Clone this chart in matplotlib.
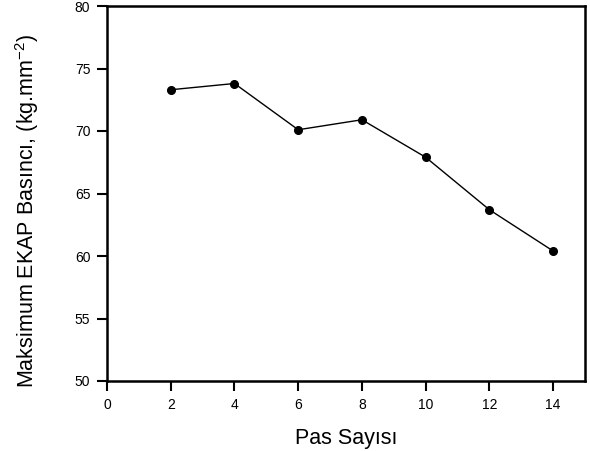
import matplotlib
matplotlib.use("Agg")
import matplotlib.pyplot as plt

pas = [2, 4, 6, 8, 10, 12, 14]
basinc = [73.3, 73.8, 70.1, 70.9, 67.9, 63.7, 60.4]
xticks = [0, 2, 4, 6, 8, 10, 12, 14]
yticks = [50, 55, 60, 65, 70, 75, 80]

plt.rcParams['font.family'] = ['Liberation Sans', 'DejaVu Sans']
plt.rcParams['mathtext.default'] = 'regular'
fig = plt.figure(figsize=(5.9, 4.51), dpi=100)
ax = fig.add_axes([107/590, 1-381/451, (585-107)/590, (381-6)/451])
ax.plot(pas, basinc, color='black', lw=1.0, marker='o', ms=5.5)
ax.set_xlim(0, 15)
ax.set_ylim(50, 80)
ax.set_xticks(xticks)
ax.set_yticks(yticks)
ax.tick_params(direction='out', length=7, width=1.5, labelsize=10, pad=5)
for s in ax.spines.values():
    s.set_linewidth(1.8)
ax.set_xlabel('Pas Sayısı', fontsize=15.5, labelpad=12)
ax.set_ylabel('Maksimum EKAP Basıncı, (kg.mm$^{-2}$)', fontsize=15.5)
ax.yaxis.set_label_coords(-66/478, 0.455)
fig.savefig('out.png', dpi=100)
